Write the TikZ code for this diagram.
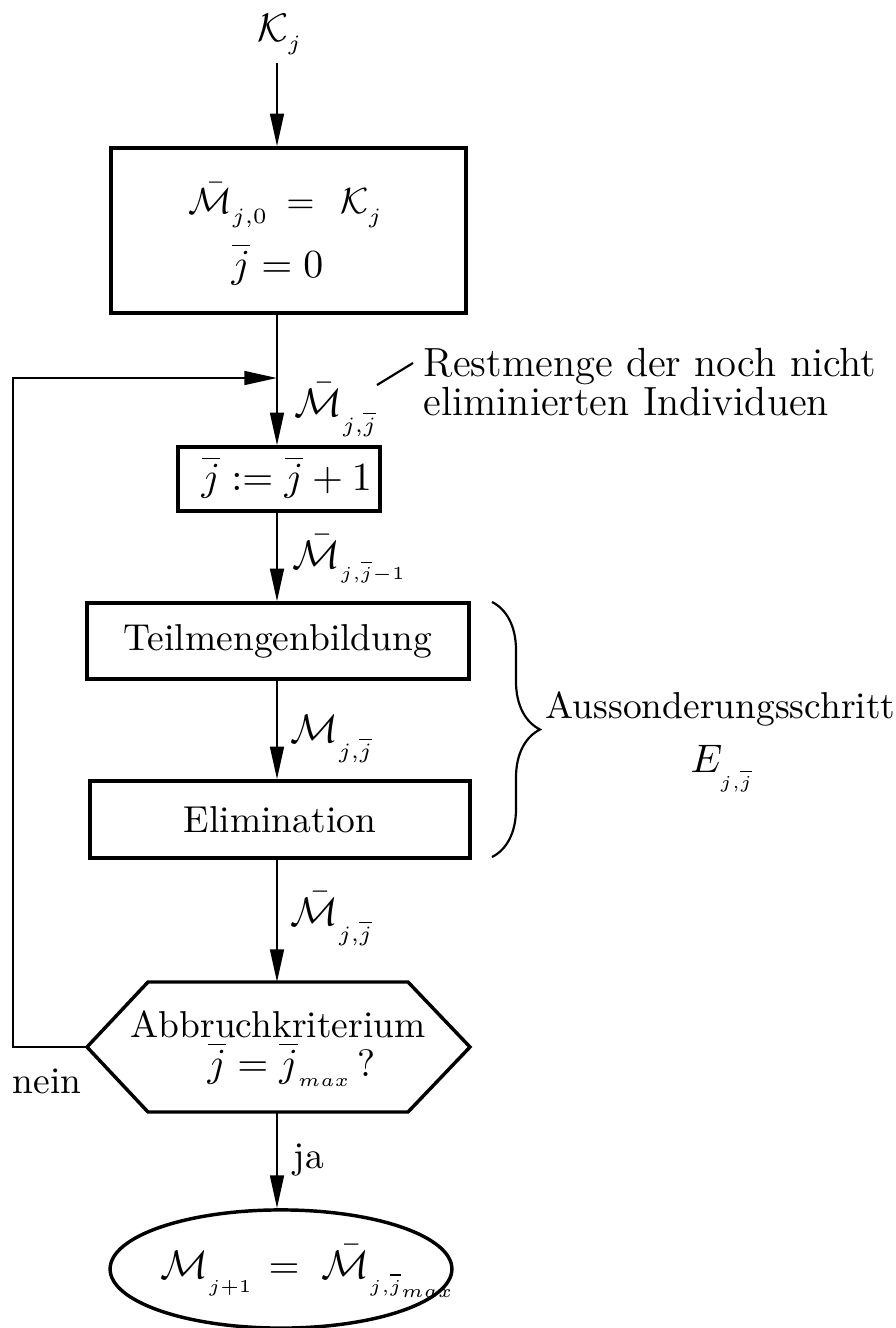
\documentclass[tikz,border=0pt]{standalone}
\usetikzlibrary{arrows.meta,decorations.pathreplacing,shapes.geometric}
% small subscript in its own size, dropped a little below the usual position
\newcommand{\lsubsz}{6}
\newcommand{\lsub}[2][1pt]{_{\raisebox{-#1}{\fontsize{\lsubsz}{\lsubsz}\selectfont$#2$}}}
\newcommand{\jb}{\overline{j}}
\newcommand{\tinymax}{\hbox{\fontsize{3.6}{4}\selectfont$max$}}
\begin{document}
\begin{tikzpicture}[x=0.275pt,y=-0.275pt,
  font=\fontsize{10.3}{12}\selectfont,
  conn/.style={line width=0.6pt},
  arr/.style={conn,-{Triangle[length=9pt,width=3.8pt]}},
  frame/.style={draw,line width=0.95pt,inner sep=0pt},
  lbl/.style={inner sep=0pt},
  mlbl/.style={inner sep=0pt,font=\fontsize{11.3}{13}\selectfont},
  mbox/.style={inner sep=0pt,font=\fontsize{10}{12}\selectfont},
  meq/.style={inner sep=0pt,font=\fontsize{10.5}{12}\selectfont}]
\useasboundingbox (0,0) rectangle (896,1328);

% main vertical axis
\coordinate (ax) at (277,0);

% input
\node[mlbl,anchor=base west,font=\fontsize{11}{13}\selectfont] (kj) at (257,41) {$\mathcal{K}\lsub{j}$};

% initialisation
\node[frame,minimum width=97.6pt,minimum height=45.4pt] (b1) at (288.5,230.5) {};
\node[mbox,anchor=base west] (b1a) at (188,213)
  {$\bar{\mathcal{M}}\lsub[1.3pt]{j{,}0}\mkern4mu=\mkern8mu\mathcal{K}\lsub[1.3pt]{j}$};
\node[meq,anchor=base west] (b1b) at (231,277) {$\jb=0$};

% counter step
\node[frame,minimum width=55.6pt,minimum height=17.6pt] (b2) at (279,479) {};
\node[meq,anchor=base west] (b2t) at (201,490) {$\jb:=\jb+1$};

% subset formation and elimination
\node[frame,minimum width=105pt,minimum height=20.9pt] (b3) at (278,641) {Teilmengenbildung};
\node[frame,minimum width=104.5pt,minimum height=21.2pt] (b4) at (280,819.5) {Elimination};

% termination test
\coordinate (hexW) at (87,1047);
\coordinate (hexN) at (277,982);
\coordinate (hexS) at (277,1112);
\draw[line width=0.95pt,line join=miter] (hexW) -- (148,982) -- (408,982) -- (470,1047)
  -- (408,1112) -- (148,1112) -- cycle;
\node[lbl,anchor=base] (hexa) at (278,1037) {Abbruchkriterium};
\node[meq,anchor=base west,font=\fontsize{10.5}{12}\selectfont\renewcommand{\lsubsz}{5}] (hexb) at (207,1076)
  {$\jb=\jb\lsub[0.3pt]{max}\,$?};

% result
\node[frame,ellipse,minimum width=94pt,minimum height=32.5pt] (res) at (281,1269) {};
\node[mlbl,anchor=base west,font=\fontsize{10.8}{13}\selectfont\renewcommand{\lsubsz}{5.2}] (rest) at (160,1278)
  {$\mathcal{M}\lsub[2.3pt]{j{+}1}\mkern2mu=\mkern5mu\bar{\mathcal{M}}\lsub[2.3pt]{j{,}\jb_{\tinymax}}$};

% flow connectors
\draw[arr,shorten <=2pt] (kj.south -| ax) -- (b1.north -| ax);
\coordinate (join) at (277,378);
\draw[arr] (b1.south -| ax) -- (b2.north -| ax);
\draw[arr] (b2.south -| ax) -- (b3.north -| ax);
\draw[arr] (b3.south -| ax) -- (b4.north -| ax);
\draw[arr] (b4.south -| ax) -- (hexN);
\draw[arr] (hexS) -- (res.north -| ax);
\coordinate (loopL) at (13,1047);
\draw[arr] (hexW) -- (loopL) |- (join);

% connector labels
\node[mlbl,anchor=base west] (m1) at (294,416) {$\bar{\mathcal{M}}\lsub[3pt]{j{,}\jb}$};
\node[mlbl,anchor=base west,font=\fontsize{11.3}{13}\selectfont\renewcommand{\lsubsz}{5.5}] (m2) at (292,568)
  {$\bar{\mathcal{M}}\lsub[1.6pt]{j{,}\jb{-}1}$};
\node[mlbl,anchor=base west] (m3) at (290,742) {$\mathcal{M}\lsub[3pt]{j{,}\jb}$};
\node[mlbl,anchor=base west] (m4) at (290,925) {$\bar{\mathcal{M}}\lsub[3pt]{j{,}\jb}$};
\node[lbl,anchor=base west] (nein) at (12,1093) {nein};
\node[lbl,anchor=base west] (ja) at (293,1168) {ja};

% annotation of the remaining set
\node[lbl,anchor=north west,align=left,font=\fontsize{11.2}{10.8}\selectfont] (note) at (423,347)
  {Restmenge der noch nicht\\eliminierten Individuen};
\draw[conn] (377,385) -- (413,363);

% brace grouping the elimination step
\draw[conn,decorate,decoration={brace,amplitude=13.2pt}] (492,602) -- (492,857);
\node[lbl,anchor=base west] (step) at (545,718) {Aussonderungsschritt};
\node[mlbl,anchor=base west,font=\fontsize{11.3}{13}\selectfont\renewcommand{\lsubsz}{5.5}] (estep) at (690,772) {$E\lsub[3pt]{j{,}\jb}$};
\end{tikzpicture}
\end{document}
